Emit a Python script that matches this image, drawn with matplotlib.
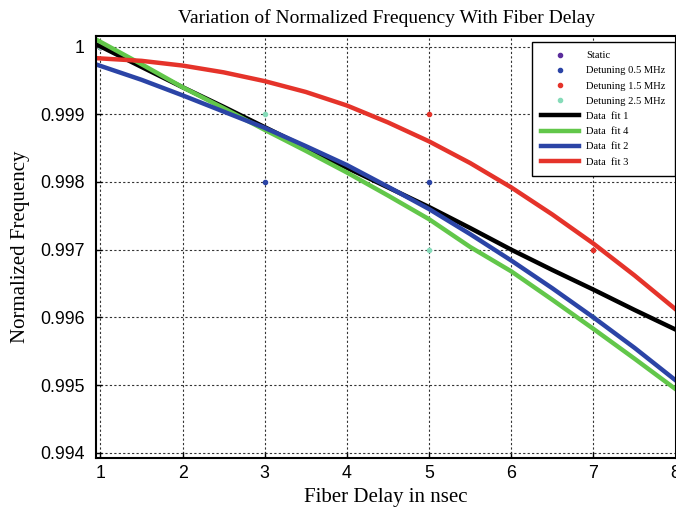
import numpy as np
import matplotlib
matplotlib.use("Agg")
import matplotlib.pyplot as plt
from matplotlib.ticker import FixedLocator

# measured points (fiber delay in ns, normalized frequency)
static_x = [1]
static_y = [1.0]
det05_x = [1, 3, 5]
det05_y = [1.0, 0.998, 0.998]
det15_x = [1, 5, 7]
det15_y = [1.0, 0.999, 0.997]
det25_x = [1, 3, 5, 7]
det25_y = [1.0, 0.999, 0.997, 0.996]

# fitted curves
fit_x = [0.94, 1.5, 2, 2.5, 3, 3.5, 4, 4.5, 5, 5.5, 6, 6.5, 7, 7.5, 8]
fit1 = [1.00004, 0.99970, 0.99940, 0.99911, 0.99881, 0.99851, 0.99821, 0.99792,
        0.99763, 0.99732, 0.99700, 0.99670, 0.99641, 0.99611, 0.99582]
fit4 = [1.00011, 0.99974, 0.99940, 0.99909, 0.99877, 0.99846, 0.99814, 0.99780,
        0.99745, 0.99704, 0.99668, 0.99626, 0.99583, 0.99539, 0.99494]
fit2 = [0.99974, 0.99951, 0.99928, 0.99904, 0.99880, 0.99853, 0.99825, 0.99793,
        0.99760, 0.99723, 0.99684, 0.99643, 0.99600, 0.99555, 0.99507]
fit3 = [0.99983, 0.99979, 0.99972, 0.99962, 0.99949, 0.99933, 0.99913, 0.99888,
        0.99860, 0.99828, 0.99792, 0.99752, 0.99709, 0.99662, 0.99612]

xticks = [1, 2, 3, 4, 5, 6, 7, 8]
yticks = [0.994, 0.995, 0.996, 0.997, 0.998, 0.999, 1.0]
ylabels = ["0.994", "0.995", "0.996", "0.997", "0.998", "0.999", "1"]

serif = ["Liberation Serif", "DejaVu Serif"]
sans = ["Liberation Sans", "DejaVu Sans"]

fig = plt.figure(figsize=(6.76, 5.12), dpi=100)
ax = fig.add_axes([0.1416, 0.1045, 0.8590, 0.8252])

ax.plot(static_x, static_y, ".", color="#5b2d9c", markersize=6, label="Static")
ax.plot(det05_x, det05_y, ".", color="#2b44a6", markersize=6, label="Detuning 0.5 MHz")
ax.plot(det15_x, det15_y, ".", color="#e5332a", markersize=6, label="Detuning 1.5 MHz")
ax.plot(det25_x, det25_y, ".", color="#86dbb9", markersize=6, label="Detuning 2.5 MHz")

ax.plot(fit_x, fit1, color="black", linewidth=3.2, label="Data  fit 1")
ax.plot(fit_x, fit4, color="#62c74a", linewidth=3.2, label="Data  fit 4")
ax.plot(fit_x, fit2, color="#2b44a6", linewidth=3.2, label="Data  fit 2")
ax.plot(fit_x, fit3, color="#e5332a", linewidth=3.2, label="Data  fit 3")

ax.set_xlim(0.943, 8.01)
ax.set_ylim(0.993915, 1.000157)
ax.xaxis.set_major_locator(FixedLocator(xticks))
ax.set_yticks(yticks)
ax.set_yticklabels(ylabels)
for lab in ax.get_xticklabels() + ax.get_yticklabels():
    lab.set_family(sans)
    lab.set_fontsize(12.8)
ax.tick_params(direction="in", length=4, width=1, top=False, right=False)
ax.tick_params(axis="y", pad=8)
ax.tick_params(axis="x", pad=5)
ax.grid(True, color="#333333", linestyle=(0, (2, 2)), linewidth=0.8)
for s in ax.spines.values():
    s.set_linewidth(1.5)

ax.set_title("Variation of Normalized Frequency With Fiber Delay",
             family=serif, fontsize=14, pad=9)
ax.set_xlabel("Fiber Delay in nsec", family=serif, fontsize=15, labelpad=4)
ax.set_ylabel("Normalized Frequency", family=serif, fontsize=15, labelpad=7)

leg = ax.legend(loc="upper right", bbox_to_anchor=(0.997, 0.986),
                prop={"family": serif, "size": 7.6}, frameon=True,
                fancybox=False, framealpha=1, edgecolor="black",
                handlelength=3.6, handletextpad=0.7, labelspacing=0.55,
                borderpad=0.85, borderaxespad=0)
leg.get_frame().set_linewidth(1.0)

fig.savefig("out.png", dpi=100)
